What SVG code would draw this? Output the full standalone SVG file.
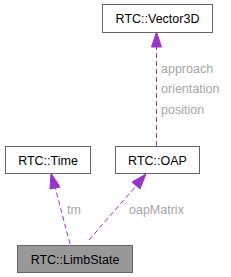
<svg xmlns="http://www.w3.org/2000/svg" width="231" height="277" viewBox="0 0 231 277">
<style>
.box{fill:#fff;stroke:#666;stroke-width:1}
.cur{fill:#999;stroke:#666;stroke-width:1}
.t{font-family:"Liberation Sans",Arial,sans-serif;font-size:12.5px;fill:#000;text-anchor:middle}
.lbl{font-family:"Liberation Sans",Arial,sans-serif;font-size:12.5px;fill:#a6a6a6}
.edge{fill:none;stroke:#9a32cd;stroke-width:1;stroke-dasharray:5,3}
.ah{fill:#9a32cd;stroke:#9a32cd}
</style>
<g id="connectors">
<path class="edge" d="M156.5,146 V46"/>
<polygon class="ah" points="151.5,47 156.5,32 161.5,47"/>
<text class="lbl" x="161" y="73">approach</text>
<text class="lbl" x="161" y="93">orientation</text>
<text class="lbl" x="161" y="114">position</text>
<path class="edge" d="M70,244 L55,187"/>
<polygon class="ah" points="50,189 51,173 60,187"/>
<text class="lbl" x="67" y="214">tm</text>
<path class="edge" d="M89,240 L136,186"/>
<polygon class="ah" points="132,182 146,174 140,189"/>
<text class="lbl" x="129" y="214">oapMatrix</text>
</g>
<g id="node-vector3d">
<rect class="box" x="102.5" y="4.5" width="110" height="28"/>
<text class="t" x="157.5" y="23">RTC::Vector3D</text>
</g>
<g id="node-time">
<rect class="box" x="5.5" y="146.5" width="85" height="27"/>
<text class="t" x="48" y="164.5">RTC::Time</text>
</g>
<g id="node-oap">
<rect class="box" x="115.5" y="146.5" width="84" height="27"/>
<text class="t" x="157.5" y="164.5">RTC::OAP</text>
</g>
<g id="node-limbstate">
<rect class="cur" x="17.5" y="245.5" width="115" height="27"/>
<text class="t" x="75" y="263.5">RTC::LimbState</text>
</g>
</svg>
